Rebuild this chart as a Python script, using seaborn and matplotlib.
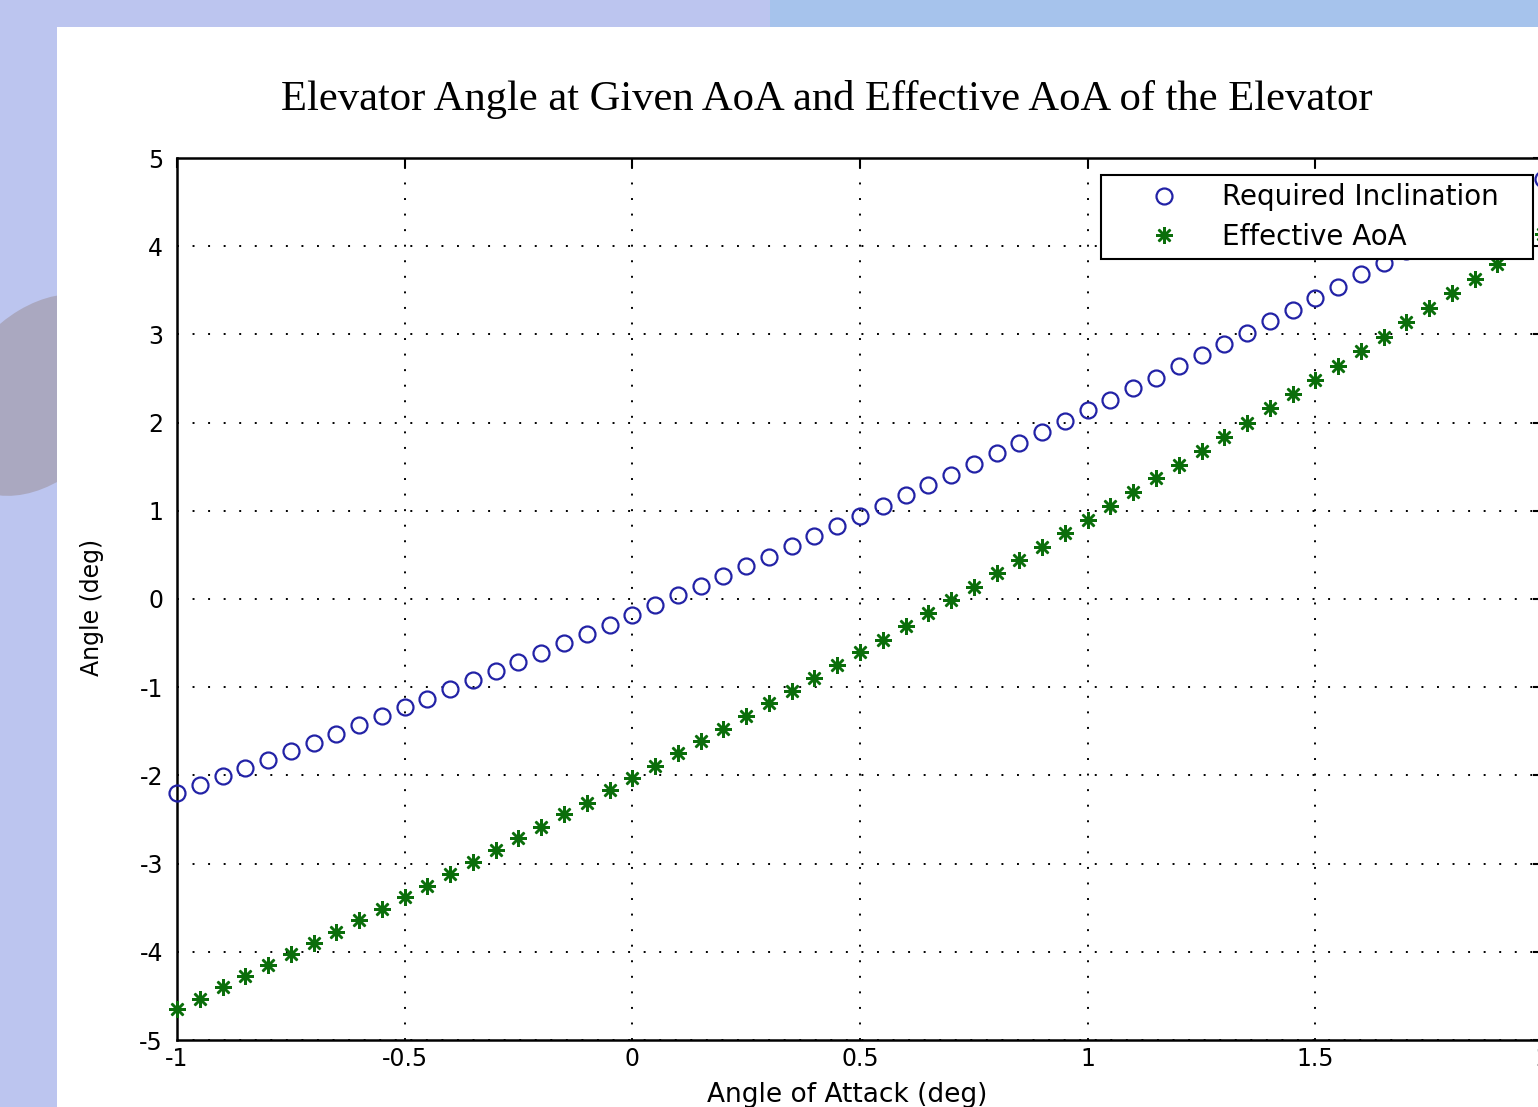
import matplotlib
matplotlib.use("Agg")
import matplotlib.pyplot as plt
from matplotlib.patches import Rectangle, Ellipse
import seaborn as sns

# angle of attack (deg), sampled every 0.05
aoa = [-1.00, -0.95, -0.90, -0.85, -0.80, -0.75, -0.70, -0.65, -0.60, -0.55,
       -0.50, -0.45, -0.40, -0.35, -0.30, -0.25, -0.20, -0.15, -0.10, -0.05,
       0.00, 0.05, 0.10, 0.15, 0.20, 0.25, 0.30, 0.35, 0.40, 0.45,
       0.50, 0.55, 0.60, 0.65, 0.70, 0.75, 0.80, 0.85, 0.90, 0.95,
       1.00, 1.05, 1.10, 1.15, 1.20, 1.25, 1.30, 1.35, 1.40, 1.45,
       1.50, 1.55, 1.60, 1.65, 1.70, 1.75, 1.80, 1.85, 1.90, 1.95, 2.00]

# required elevator inclination (deg)
required_incl = [-2.20, -2.11, -2.01, -1.92, -1.82, -1.72, -1.63, -1.53, -1.43, -1.33,
                 -1.23, -1.13, -1.02, -0.92, -0.82, -0.71, -0.61, -0.50, -0.40, -0.29,
                 -0.18, -0.07, 0.04, 0.15, 0.26, 0.37, 0.48, 0.60, 0.71, 0.83,
                 0.94, 1.06, 1.18, 1.29, 1.41, 1.53, 1.65, 1.77, 1.89, 2.02,
                 2.14, 2.26, 2.39, 2.51, 2.64, 2.77, 2.89, 3.02, 3.15, 3.28,
                 3.41, 3.54, 3.68, 3.81, 3.94, 4.08, 4.21, 4.35, 4.48, 4.62, 4.76]

# effective AoA of the elevator (deg)
effective_aoa = [-4.65, -4.53, -4.40, -4.28, -4.15, -4.02, -3.90, -3.77, -3.64, -3.51,
                 -3.38, -3.25, -3.12, -2.98, -2.85, -2.71, -2.58, -2.44, -2.31, -2.17,
                 -2.03, -1.89, -1.75, -1.61, -1.47, -1.33, -1.18, -1.04, -0.90, -0.75,
                 -0.60, -0.46, -0.31, -0.16, -0.01, 0.14, 0.29, 0.44, 0.59, 0.75,
                 0.90, 1.05, 1.21, 1.37, 1.52, 1.68, 1.84, 2.00, 2.16, 2.32,
                 2.48, 2.64, 2.81, 2.97, 3.14, 3.30, 3.47, 3.63, 3.80, 3.97, 4.14]

x_ticks = [-1, -0.5, 0, 0.5, 1, 1.5, 2]
x_ticklabels = ["-1", "-0.5", "0", "0.5", "1", "1.5", "2"]
y_ticks = [-5, -4, -3, -2, -1, 0, 1, 2, 3, 4, 5]

title = "Elevator Angle at Given AoA and Effective AoA of the Elevator"
BLUE = "#2222a6"
GREEN = "#0b6e0b"

sns.set_style("white")
plt.rcParams["font.family"] = ["DejaVu Sans"]
plt.rcParams["text.color"] = "black"
plt.rcParams["axes.labelcolor"] = "black"
plt.rcParams["axes.unicode_minus"] = False

W, H = 1538, 1107
fig = plt.figure(figsize=(W / 100, H / 100), dpi=100)
fig.patch.set_facecolor("#bcc5ef")

# slide backdrop: grey blob on the left, lighter band top right, white panel
fig.patches.append(Ellipse((40 / W, 1 - 395 / H), 170 / W, 210 / H, angle=-20,
                           transform=fig.transFigure, facecolor="#aaa8c0",
                           edgecolor="none", zorder=-3))
fig.patches.append(Rectangle((770 / W, 1 - 27 / H), 1, 27 / H, transform=fig.transFigure,
                             facecolor="#a6c3ec", edgecolor="none", zorder=-3))
fig.patches.append(Rectangle((57 / W, 0), 1, 1 - 27 / H, transform=fig.transFigure,
                             facecolor="white", edgecolor="none", zorder=-2))

ax = fig.add_axes([177 / W, (H - 1040) / H, 1366 / W, 882 / H])
ax.set_facecolor("white")

sns.lineplot(x=aoa, y=required_incl, ax=ax, color=BLUE, linestyle="none",
             marker="o", markersize=11.5, markerfacecolor="none",
             markeredgecolor=BLUE, markeredgewidth=1.6,
             label="Required Inclination", clip_on=False, zorder=3)
sns.lineplot(x=aoa, y=effective_aoa, ax=ax, color=GREEN, linestyle="none",
             marker=(8, 2, 0), markersize=12, markeredgecolor=GREEN,
             markeredgewidth=1.8, label="Effective AoA", clip_on=False, zorder=3)

ax.set_xlim(-1, 2)
ax.set_ylim(-5, 5)
ax.set_xticks(x_ticks)
ax.set_xticklabels(x_ticklabels)
ax.set_yticks(y_ticks)
ax.tick_params(axis="both", direction="in", length=7, width=1.5, labelsize=17,
               top=True, right=True, colors="black")
ax.tick_params(axis="y", pad=10)
ax.tick_params(axis="x", pad=5)

ax.grid(True, color="black", linestyle=(0, (1, 7)), linewidth=1.4)
for s in ax.spines.values():
    s.set_color("black")
    s.set_linewidth(1.8)

ax.set_xlabel("Angle of Attack (deg)", fontsize=19)
ax.set_ylabel("Angle (deg)", fontsize=17)
ax.xaxis.set_label_coords((847 - 177) / 1366, (1040 - 1082) / 882)
ax.yaxis.set_label_coords((104 - 177) / 1366, (1040 - 607) / 882)

leg = ax.legend(loc="upper left", mode="expand",
                bbox_to_anchor=((1101 - 177) / 1366, (1040 - 260) / 882,
                                (1533 - 1101) / 1366, (260 - 175) / 882),
                fontsize=20, frameon=True, fancybox=False, framealpha=1,
                edgecolor="black", borderpad=0.3, labelspacing=0.42,
                handlelength=3.9, handletextpad=0.15, borderaxespad=0)
leg.get_frame().set_linewidth(1.5)
leg.set_zorder(5)

fig.text(827 / W, 1 - 110 / H, title, ha="center", va="baseline",
         fontsize=30.7, color="black", family=["Liberation Serif", "DejaVu Serif"])

fig.savefig("out.png", dpi=100, facecolor=fig.get_facecolor())
